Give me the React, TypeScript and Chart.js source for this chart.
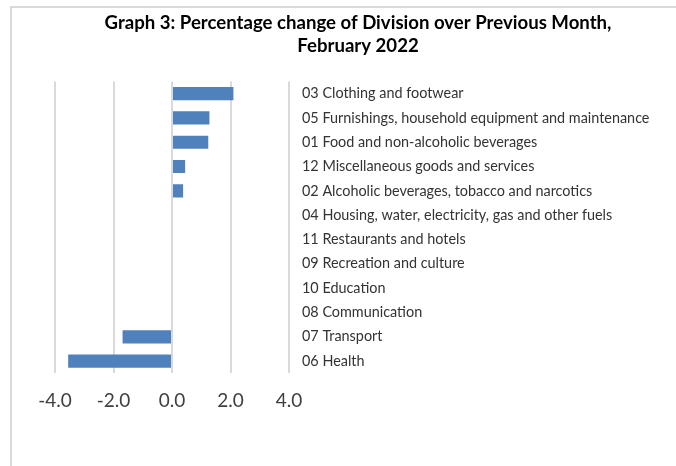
import React, { useEffect, useRef } from "react";
import { Chart, registerables } from "chart.js";

Chart.register(...registerables);

const categories = [
  "03 Clothing and footwear",
  "05 Furnishings, household equipment and maintenance",
  "01 Food and non-alcoholic beverages",
  "12 Miscellaneous goods and services",
  "02 Alcoholic beverages, tobacco and narcotics",
  "04 Housing, water, electricity, gas and other fuels",
  "11 Restaurants and hotels",
  "09 Recreation and culture",
  "10 Education",
  "08 Communication",
  "07 Transport",
  "06 Health",
];

const values = [2.1, 1.28, 1.24, 0.45, 0.38, 0, 0, 0, 0, 0, -1.69, -3.55];

const xMin = -4;
const xMax = 4;
const xStep = 2;

const titleLines = [
  "Graph 3: Percentage change of Division over Previous Month,",
  "February 2022",
];

const FONT = "Lato, 'Open Sans', sans-serif";

export default function App() {
  const ref = useRef<HTMLCanvasElement>(null);

  useEffect(() => {
    if (!ref.current) return;
    const chart = new Chart(ref.current, {
      type: "bar",
      data: {
        labels: categories,
        datasets: [
          {
            data: values,
            backgroundColor: "#4f81bd",
            borderWidth: 0,
            barPercentage: 0.54,
            categoryPercentage: 1,
          },
        ],
      },
      options: {
        indexAxis: "y",
        responsive: false,
        animation: false,
        layout: { padding: { left: 55, right: 15, top: 0, bottom: 0 } },
        plugins: {
          legend: { display: false },
          tooltip: { enabled: false },
          title: {
            display: true,
            text: titleLines,
            color: "#000000",
            font: { family: FONT, size: 18.6, weight: "bold", lineHeight: 1.25 },
            padding: { top: 11.5, bottom: 23.4 },
          },
        },
        scales: {
          x: {
            type: "linear",
            min: xMin,
            max: xMax,
            ticks: {
              stepSize: xStep,
              callback: (v: any) => Number(v).toFixed(1),
              color: "#404040",
              font: { family: FONT, size: 19 },
              padding: 16,
            },
            grid: { color: "#d9d9d9", lineWidth: 2, drawTicks: false },
            border: { display: false },
            afterFit: (s: any) => {
              s.height = 92.7;
            },
          },
          y: {
            position: "right",
            ticks: {
              color: "#333333",
              font: { family: FONT, size: 14.4 },
              padding: 13,
              autoSkip: false,
            },
            grid: { display: false, drawTicks: false },
            border: { display: false },
            afterFit: (s: any) => {
              s.width = 372;
            },
          },
        },
      },
    });
    return () => chart.destroy();
  }, []);

  return (
    <div
      style={{
        position: "fixed",
        left: 0,
        top: 0,
        width: 676,
        height: 466,
        overflow: "hidden",
        background: "#ffffff",
      }}
    >
      <div
        style={{
          position: "absolute",
          left: 10,
          top: 6,
          width: 900,
          height: 900,
          borderLeft: "2px solid #d9d9d9",
          borderTop: "2px solid #d9d9d9",
        }}
      />
      <canvas
        ref={ref}
        width={676}
        height={466}
        style={{ position: "absolute", left: 0, top: 0 }}
      />
    </div>
  );
}
